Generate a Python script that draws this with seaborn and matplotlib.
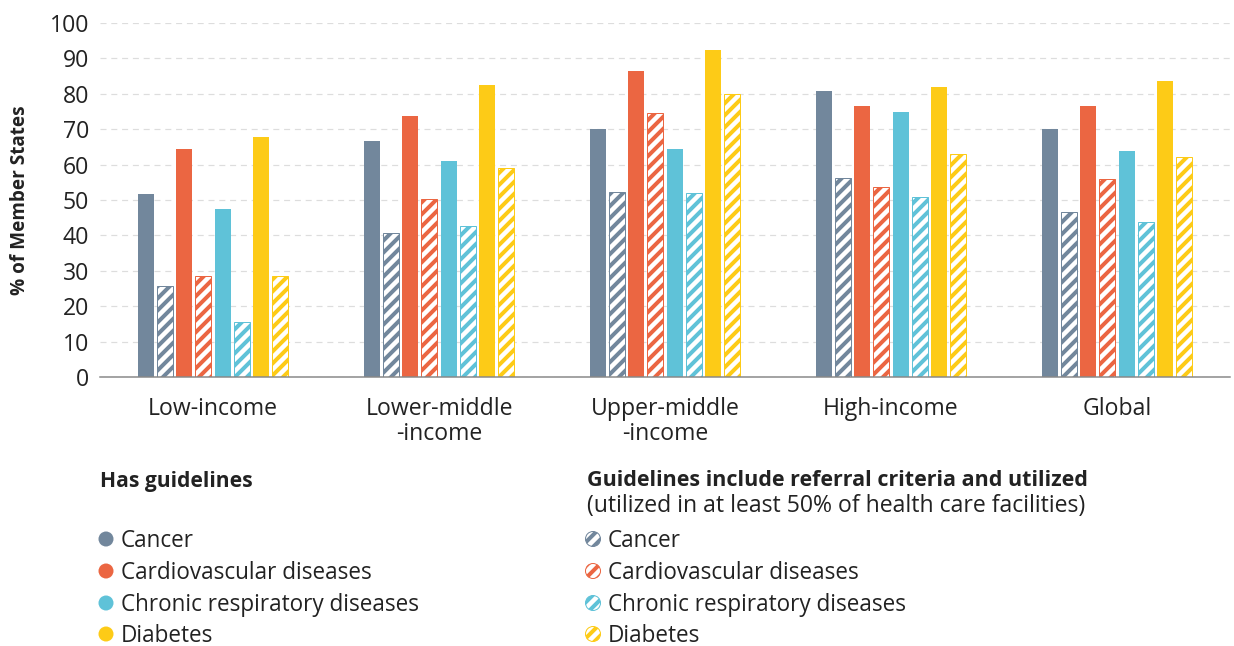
import pandas as pd
import matplotlib.pyplot as plt
import matplotlib.patches as mpatches
import seaborn as sns

# data
groups = ['Low-income', 'Lower-middle\n-income', 'Upper-middle\n-income', 'High-income', 'Global']
diseases = ['Cancer', 'Cardiovascular diseases', 'Chronic respiratory diseases', 'Diabetes']
colors = ['#72879C', '#EB6642', '#5FC2D8', '#FDCB17']

has_guidelines = {
    'Cancer': [51.7, 66.7, 70.1, 80.8, 70.1],
    'Cardiovascular diseases': [64.4, 73.7, 86.4, 76.6, 76.6],
    'Chronic respiratory diseases': [47.5, 61.0, 64.4, 74.9, 63.8],
    'Diabetes': [67.9, 82.5, 92.4, 81.9, 83.6],
}
referral_utilized = {
    'Cancer': [25.7, 40.8, 52.3, 56.1, 46.5],
    'Cardiovascular diseases': [28.5, 50.2, 74.6, 53.6, 55.9],
    'Chronic respiratory diseases': [15.6, 42.7, 51.9, 50.8, 43.7],
    'Diabetes': [28.5, 59.0, 79.9, 62.9, 62.1],
}

rows = []
hue_order = []
for d in diseases:
    hue_order += [d, d + ' (ref)']
    for g, v in zip(groups, has_guidelines[d]):
        rows.append({'group': g, 'series': d, 'value': v})
    for g, v in zip(groups, referral_utilized[d]):
        rows.append({'group': g, 'series': d + ' (ref)', 'value': v})
df = pd.DataFrame(rows)

palette = {}
for d, c in zip(diseases, colors):
    palette[d] = c
    palette[d + ' (ref)'] = c

sns.set_style('white')
plt.rcParams['font.family'] = ['Open Sans', 'DejaVu Sans']
plt.rcParams['hatch.linewidth'] = 4
text_color = '#222222'

W, H, DPI = 1234, 646, 72
fig = plt.figure(figsize=(W / DPI, H / DPI), dpi=DPI)
ax = fig.add_axes([100 / W, 1 - 377 / H, 1130 / W, (377 - 23) / H])

sns.barplot(data=df, x='group', y='value', hue='series', order=groups,
            hue_order=hue_order, palette=palette, errorbar=None,
            width=0.68, gap=0.16, saturation=1, legend=False, ax=ax)

for i, cont in enumerate(ax.containers):
    c = colors[i // 2]
    for bar in cont:
        if i % 2 == 1:
            bar.set_facecolor('white')
            bar.set_edgecolor(c)
            bar.set_hatch('//')
            bar.set_linewidth(1)
        else:
            bar.set_edgecolor('none')

ax.set_ylim(0, 100)
ax.set_xlim(-0.5, 4.5)
ax.set_yticks(range(0, 101, 10))
ax.yaxis.grid(True, linestyle=(0, (5, 4)), color='#dddddd', linewidth=1.2)
ax.set_axisbelow(True)
for s in ['left', 'top', 'right']:
    ax.spines[s].set_visible(False)
ax.spines['bottom'].set_color('#888888')
ax.spines['bottom'].set_linewidth(1.5)
ax.tick_params(axis='both', length=0, labelsize=23, colors=text_color)
ax.tick_params(axis='y', pad=11)
ax.tick_params(axis='x', pad=20)
for lab in ax.get_xticklabels():
    lab.set_linespacing(1.05)
ax.set_xlabel('')
ax.set_ylabel('% of Member States', fontsize=19, fontweight='bold', color=text_color)
ax.yaxis.set_label_coords(-70 / 1130, 0.5)


def fx(x):
    return x / W


def fy(y):
    return 1 - y / H


# custom legend
fig.text(fx(100), fy(481), 'Has guidelines', fontsize=21, fontweight='bold',
         color=text_color, va='center')
fig.text(fx(587), fy(481), 'Guidelines include referral criteria and utilized',
         fontsize=21.5, fontweight='bold', color=text_color, va='center')
fig.text(fx(587), fy(506), '(utilized in at least 50% of health care facilities)',
         fontsize=23, color=text_color, va='center')

item_y = [539, 571, 603, 634]
r = 7.5
for d, c, y in zip(diseases, colors, item_y):
    fig.add_artist(mpatches.Ellipse((fx(106), fy(y)), 2 * r / W, 2 * r / H,
                                    transform=fig.transFigure, facecolor=c, edgecolor='none'))
    fig.text(fx(121), fy(y + 8), d, fontsize=22.5, color=text_color, va='baseline')
    fig.add_artist(mpatches.Ellipse((fx(593), fy(y)), 2 * r / W, 2 * r / H,
                                    transform=fig.transFigure, facecolor='white',
                                    edgecolor=c, hatch='//', linewidth=1))
    fig.text(fx(608), fy(y + 8), d, fontsize=22.5, color=text_color, va='baseline')

plt.savefig('out.png', dpi=DPI)
plt.close()
